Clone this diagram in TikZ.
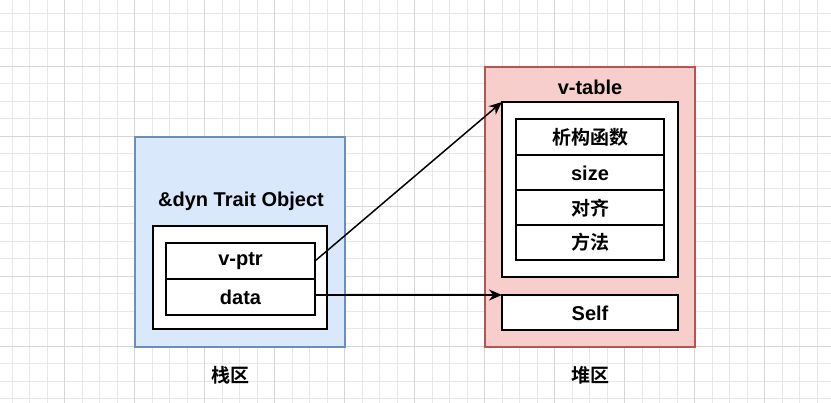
\documentclass[tikz,border=0pt]{standalone}
\usepackage{fontspec}
\setmainfont{Liberation Sans}
\newfontfamily\cjk{Noto Sans CJK SC}[BoldFont={* Bold}]
\usetikzlibrary{arrows.meta}
\definecolor{bluef}{HTML}{DAE8FC}\definecolor{bluel}{HTML}{6C8EBF}
\definecolor{redf}{HTML}{F8CECC}\definecolor{redl}{HTML}{B85450}
\begin{document}
\begin{tikzpicture}[x=1pt,y=-1pt,
 box/.style={draw=black,line width=1.5pt,fill=white},
 lab/.style={font=\fontsize{20}{24}\selectfont\bfseries},
 clab/.style={font=\cjk\fontsize{19}{23}\selectfont\bfseries},
 arr/.style={-{Stealth[length=13pt,width=11pt]},line width=1.5pt}]
\useasboundingbox (0,0) rectangle (831,403);
\foreach \x in {12,29.5,...,831} \draw[black!9,line width=1pt] (\x,0)--(\x,403);
\foreach \y in {14,31.5,...,403} \draw[black!9,line width=1pt] (0,\y)--(831,\y);
\foreach \x in {64.5,134.5,...,831} \draw[black!16,line width=1pt] (\x,0)--(\x,403);
\foreach \y in {66.5,136.5,...,403} \draw[black!16,line width=1pt] (0,\y)--(831,\y);
\draw[fill=bluef,draw=bluel,line width=1.5pt] (135,137) rectangle (345,347);
\node[lab] (t1) at (241,201) {\&dyn Trait Object};
\draw[box] (153,226) rectangle (327,329);
\draw[box] (166,243) rectangle (315,279);
\node[lab] (vptr) at (240.5,261) {v-ptr};
\draw[box] (166,279) rectangle (315,315);
\node[lab] (data) at (240.5,297) {data};
\draw[fill=redf,draw=redl,line width=1.5pt] (485,67) rectangle (695,347);
\node[lab] (vt) at (590,87) {v-table};
\draw[box] (502,102) rectangle (678,277);
\draw[box] (516,119) rectangle (664,155);
\node[clab] (r1) at (590,137) {析构函数};
\draw[box] (516,155) rectangle (664,190);
\node[lab] (r2) at (590,173) {size};
\draw[box] (516,190) rectangle (664,225);
\node[clab] (r3) at (590,208) {对齐};
\draw[box] (516,225) rectangle (664,260);
\node[clab] (r4) at (590,242) {方法};
\draw[box] (502,295) rectangle (678,330);
\node[lab] (self) at (590,313) {Self};
\node[clab] (s1) at (230,375) {栈区};
\node[clab] (s2) at (590,375) {堆区};
\coordinate (a1) at (315,261); \coordinate (b1) at (502,102);
\coordinate (a2) at (315,295); \coordinate (b2) at (502,295);
\draw[arr] (a1) -- (b1);
\draw[arr] (a2) -- (b2);
\end{tikzpicture}
\end{document}
